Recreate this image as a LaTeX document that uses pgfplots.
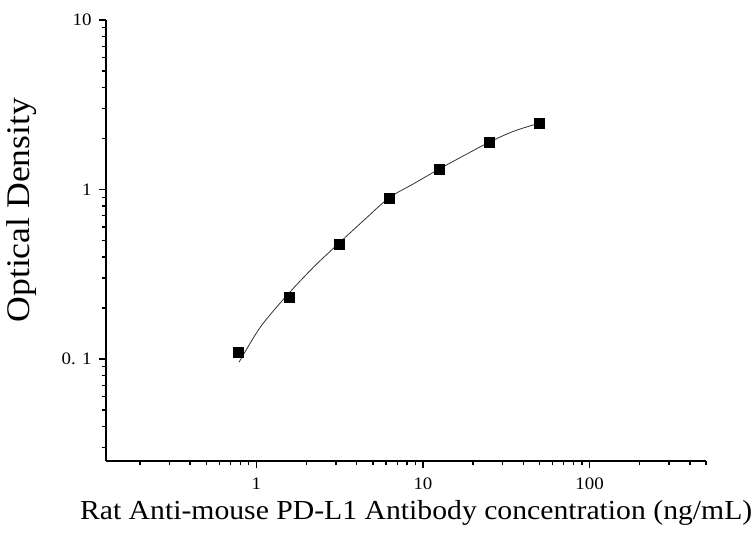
\documentclass[border=0pt]{standalone}
\usepackage{fontspec}
\setmainfont[FakeStretch=1.08]{Liberation Serif}
\usepackage{pgfplots}
\pgfplotsset{compat=1.18}
\begin{document}
\begin{tikzpicture}
\begin{axis}[
  scale only axis,
  width=600pt, height=441pt,
  xmode=log, ymode=log,
  xmin=0.125, xmax=500, ymin=0.025, ymax=10,
  axis x line*=bottom, axis y line*=left,
  axis line style={line width=1.6pt, -},
  tick align=outside,
  tick style={line width=1.3pt, black},
  major tick length=7pt, minor tick length=4.5pt,
  xtick={1,10,100}, xticklabels={1,10,100},
  minor xtick={0.2,0.3,0.4,0.5,0.6,0.7,0.8,0.9,2,3,4,5,6,7,8,9,20,30,40,50,60,70,80,90,200,300,400,500},
  ytick={0.1,1,10}, yticklabels={0. 1,1,10},
  minor ytick={0.03,0.04,0.05,0.06,0.07,0.08,0.09,0.2,0.3,0.4,0.5,0.6,0.7,0.8,0.9,2,3,4,5,6,7,8,9},
  /pgf/number format/assume math mode=true,
  tick label style={font=\fontsize{17.5}{20}\selectfont},
  xticklabel style={yshift=-6pt},
  yticklabel style={xshift=-4pt},
  xlabel={Rat Anti-mouse PD-L1 Antibody concentration (ng/mL)},
  ylabel={Optical Density},
  every axis x label/.style={at={(rel axis cs:0.517,0)}, yshift=-52pt, anchor=center, font=\fontsize{27.5}{32}\selectfont},
  every axis y label/.style={at={(rel axis cs:0,0.569)}, xshift=-84pt, rotate=90, anchor=center, font=\fontsize{33}{38}\selectfont},
  clip=false,
]
\addplot[smooth, line width=0.8pt, color=black!80, no marks] coordinates {
  (0.786,0.0956) (1.06,0.155) (1.535,0.239) (2.22,0.351) (3.13,0.482)
  (4.43,0.66) (6.26,0.893) (8.84,1.085) (12.5,1.32) (17.7,1.59)
  (25.2,1.91) (35.2,2.21) (50.5,2.47)
};
\addplot[only marks, mark=square*, mark size=5pt, color=black] coordinates {
  (0.78,0.1095) (1.5625,0.233) (3.125,0.475) (6.25,0.893)
  (12.5,1.32) (25,1.91) (50,2.47)
};
\coordinate (O) at (rel axis cs:0,0);
\end{axis}
\pgfresetboundingbox
\path[use as bounding box] ([shift={(-106pt,-78pt)}]O) rectangle ([shift={(650pt,461pt)}]O);
\end{tikzpicture}
\end{document}
